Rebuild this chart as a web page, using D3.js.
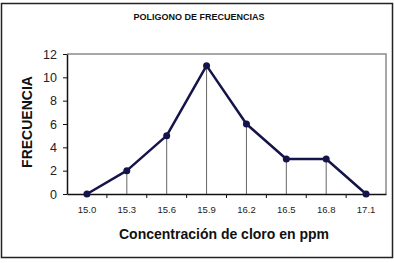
<!DOCTYPE html>
<html>
<head>
<meta charset="utf-8">
<script src="https://cdn.jsdelivr.net/npm/d3@7"></script>
<style>
  html, body { margin: 0; padding: 0; background: #fff; }
  svg { display: block; }
</style>
</head>
<body>
<div id="chart"></div>
<script>
'use strict';

// chart data
const categories = ['15.0', '15.3', '15.6', '15.9', '16.2', '16.5', '16.8', '17.1'];
const frequencies = [0, 2, 5, 11, 6, 3, 3, 0];
const y_ticks = [0, 2, 4, 6, 8, 10, 12];

const dimensions = {
  width: 394,
  height: 263,
  margin: { top: 54, bottom: 69, left: 67, right: 8 }
}
dimensions.ctrWidth = dimensions.width - dimensions.margin.left - dimensions.margin.right
dimensions.ctrHeight = dimensions.height - dimensions.margin.top - dimensions.margin.bottom

const dataset = categories.map((c, i) => ({ key: c, value: frequencies[i] }))

const svg_el = d3.select('#chart')
  .append('svg')
  .attr('width', dimensions.width)
  .attr('height', dimensions.height)
  .style('font-family', 'Liberation Sans, Arial, sans-serif')

// outer frame
svg_el.append('rect')
  .attr('x', 1.5)
  .attr('y', 3.5)
  .attr('width', 391)
  .attr('height', 254)
  .attr('fill', 'white')
  .attr('stroke', '#222')
  .attr('stroke-width', 1.5)

// title
svg_el.append('text')
  .attr('x', 199)
  .attr('y', 20)
  .attr('text-anchor', 'middle')
  .style('font-weight', 'bold')
  .style('font-size', '9px')
  .attr('fill', '#111')
  .text('POLIGONO DE FRECUENCIAS')

const chart_g = svg_el.append('g')
  .attr('transform', `translate(${dimensions.margin.left}, ${dimensions.margin.top})`)

// scales
const x_scale = d3.scaleBand()
  .domain(categories)
  .range([0, dimensions.ctrWidth])

const y_scale = d3.scaleLinear()
  .domain([0, 12])
  .range([dimensions.ctrHeight, 0])

const x_pos = d => x_scale(d.key) + x_scale.bandwidth() / 2

// plot area border (top/right in gray)
chart_g.append('path')
  .attr('d', `M0,0H${dimensions.ctrWidth}V${dimensions.ctrHeight}`)
  .attr('fill', 'none')
  .attr('stroke', '#8a8a8a')
  .attr('stroke-width', 1.5)

// drop lines
chart_g.append('g')
  .selectAll('line')
  .data(dataset.filter(d => d.value > 0))
  .join('line')
  .attr('x1', x_pos)
  .attr('x2', x_pos)
  .attr('y1', d => y_scale(d.value))
  .attr('y2', y_scale(0))
  .attr('stroke', '#666')
  .attr('stroke-width', 1)

// x axis
const xAxisGroup = chart_g.append('g')
  .attr('transform', `translate(0, ${dimensions.ctrHeight})`)
  .call(d3.axisBottom(x_scale).tickSize(0).tickPadding(12))
xAxisGroup.select('.domain').attr('stroke', '#111').attr('stroke-width', 1.5)
xAxisGroup.selectAll('text')
  .style('font-size', '9.5px')
  .attr('fill', '#222')

// tick marks between categories
xAxisGroup.append('g')
  .selectAll('line')
  .data(categories.slice(1))
  .join('line')
  .attr('x1', d => x_scale(d))
  .attr('x2', d => x_scale(d))
  .attr('y1', 0)
  .attr('y2', 4)
  .attr('stroke', '#111')

// y axis
const yAxisGroup = chart_g.append('g')
  .call(d3.axisLeft(y_scale).tickValues(y_ticks).tickSize(4).tickPadding(6).tickSizeOuter(0))
yAxisGroup.select('.domain').attr('stroke', '#111').attr('stroke-width', 1.5)
yAxisGroup.selectAll('.tick line').attr('stroke', '#111')
yAxisGroup.selectAll('text')
  .style('font-size', '12.5px')
  .attr('fill', '#222')

// polygon line
chart_g.append('path')
  .datum(dataset)
  .attr('d', d3.line().x(x_pos).y(d => y_scale(d.value)))
  .attr('fill', 'none')
  .attr('stroke', '#14144a')
  .attr('stroke-width', 2.5)
  .attr('stroke-linejoin', 'round')

// markers
chart_g.append('g')
  .selectAll('circle')
  .data(dataset)
  .join('circle')
  .attr('cx', x_pos)
  .attr('cy', d => y_scale(d.value))
  .attr('r', 3.5)
  .attr('fill', '#14144a')

// x title
svg_el.append('text')
  .attr('x', 224)
  .attr('y', 239)
  .attr('text-anchor', 'middle')
  .style('font-weight', 'bold')
  .style('font-size', '14px')
  .attr('fill', '#111')
  .text('Concentración de cloro en ppm')

// y title
svg_el.append('text')
  .attr('transform', 'translate(32, 122) rotate(-90)')
  .attr('text-anchor', 'middle')
  .style('font-weight', 'bold')
  .style('font-size', '14px')
  .attr('fill', '#111')
  .text('FRECUENCIA')
</script>
</body>
</html>
